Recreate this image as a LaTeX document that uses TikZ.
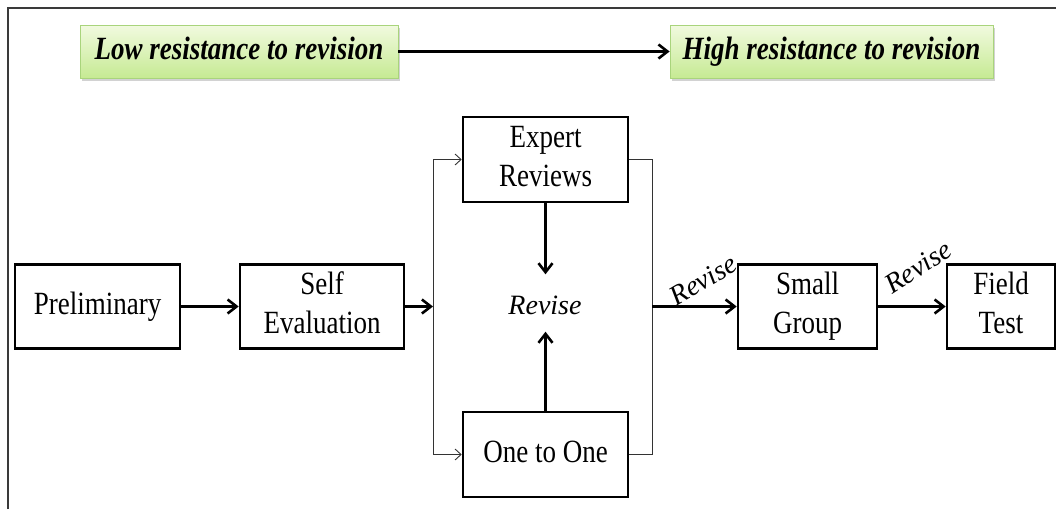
\documentclass[tikz,border=0pt]{standalone}
\usepackage{fontspec}
\setmainfont{Liberation Serif}
\usepackage{graphicx}
\usetikzlibrary{arrows.meta,shadows}
\newcommand\stx[1]{\scalebox{1}[1.2]{\begin{tabular}{@{}c@{}}#1\end{tabular}}}
\definecolor{gtop}{HTML}{F1FADF}
\definecolor{gbot}{HTML}{C6EA93}
\definecolor{gedge}{HTML}{A9D47C}
\definecolor{framec}{HTML}{3A3A3A}
\begin{document}
\begin{tikzpicture}[x=1pt,y=-1pt,
  box/.style={draw=black, line width=2.6pt, fill=white, minimum height=84pt,
    inner sep=0pt, font=\fontsize{27}{32}\selectfont},
  greenbox/.style={draw=gedge, line width=0.8pt, top color=gtop, bottom color=gbot,
    minimum height=53pt, inner sep=0pt,
    drop shadow={shadow xshift=1.5pt, shadow yshift=-2.5pt, opacity=0.35},
    font=\fontsize{27}{32}\selectfont\bfseries\itshape},
  thickarr/.style={line width=2.6pt, -{Straight Barb[length=9pt,width=14pt]}},
  thinarr/.style={line width=0.9pt, draw=black!80, -{Straight Barb[length=6pt,width=11pt]}},
  thinline/.style={line width=0.9pt, draw=black!80},
  revlabel/.style={font=\fontsize{28}{30}\selectfont\itshape, inner sep=0pt}
]
\fill[white] (0,0) rectangle (1056,509);
\useasboundingbox (0,0) rectangle (1056,509);
% frame (top and left)
\draw[framec, line width=1.6pt] (8,509) -- (8,8) -- (1056,8);

% top green boxes
\node[greenbox, minimum width=318pt] (low) at (239,51.5) {\stx{Low resistance to revision}};
\node[greenbox, minimum width=323pt] (high) at (831.5,51.5) {\stx{High resistance to revision}};
\draw[thickarr] (low) -- (high);

% main boxes
\node[box, minimum width=165pt] (pre) at (97.5,306.5) {\stx{Preliminary}};
\node[box, minimum width=164pt] (self) at (322,306.5) {\stx{Self\\Evaluation}};
\node[box, minimum width=165pt, minimum height=85pt] (expert) at (545.5,159.5) {\stx{Expert\\Reviews}};
\node[box, minimum width=165pt, minimum height=85pt] (one) at (545.5,454.5) {\stx{One to One}};
\node[box, minimum width=139pt] (small) at (807.5,306.5) {\stx{Small\\Group}};
\node[box, minimum width=108pt] (field) at (1001,306.5) {\stx{Field\\Test}};
\node[font=\fontsize{28}{32}\selectfont\itshape, inner sep=0pt] (rev) at (545,305) {Revise};

% junctions
\coordinate (jl) at (433,306.5);
\coordinate (jr) at (652,306.5);

% connectors
\draw[thickarr] (pre) -- (self);
\draw[thickarr] (self) -- (jl);
\draw[thinline] (jl) -- (jl |- expert.west);
\draw[thinline] (jl) -- (jl |- one.west);
\draw[thinarr] (jl |- expert.west) -- (expert.west);
\draw[thinarr] (jl |- one.west) -- (one.west);
\draw[thinline] (expert.east) -| (jr);
\draw[thinline] (one.east) -| (jr);
\draw[thickarr] (expert.south) -- ++(0,71);
\draw[thickarr] (one.north) -- ++(0,-79);
\draw[thickarr] (jr) -- (small);
\draw[thickarr] (small) -- (field);

% rotated labels
\node[revlabel, rotate=31] (rev1) at (703,280) {Revise};
\node[revlabel, rotate=33] (rev2) at (918,267) {Revise};
\end{tikzpicture}
\end{document}
